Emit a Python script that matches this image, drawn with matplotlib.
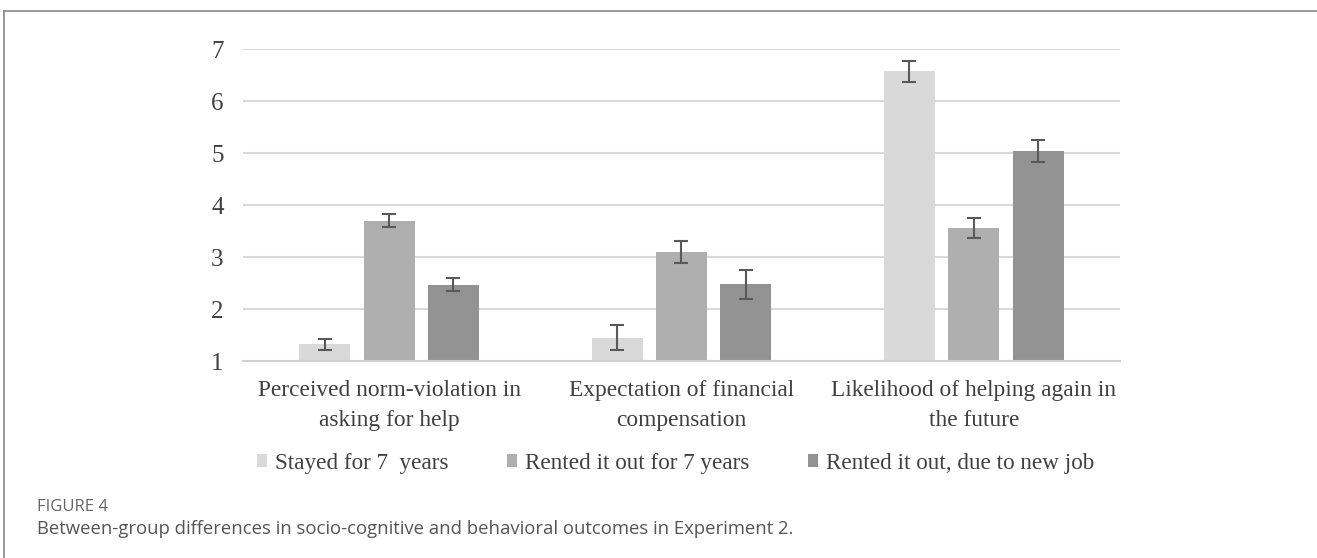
import numpy as np
import matplotlib.pyplot as plt
from matplotlib.patches import Patch
from matplotlib.lines import Line2D

categories = ['Perceived norm-violation in\nasking for help',
              'Expectation of financial\ncompensation',
              'Likelihood of helping again in\nthe future']
groups = ['Stayed for 7  years', 'Rented it out for 7 years', 'Rented it out, due to new job']
means = [
    [1.32, 1.45, 6.57],
    [3.70, 3.10, 3.56],
    [2.47, 2.48, 5.04],
]
errors = [
    [0.10, 0.24, 0.20],
    [0.12, 0.21, 0.19],
    [0.12, 0.28, 0.21],
]
colors = ['#d9d9d9', '#afafaf', '#939393']

plt.rcParams['font.family'] = 'Liberation Serif'

fig = plt.figure(figsize=(13.17, 5.58), dpi=100)
ax = fig.add_axes([0.1845, 0.353, 0.6659, 0.559])

x = np.arange(len(categories))
width = 0.175
step = 0.22
for i in range(3):
    ax.bar(x + (i - 1) * step, means[i], width, bottom=0, color=colors[i], zorder=2)
    ax.errorbar(x + (i - 1) * step, means[i], yerr=errors[i], fmt='none',
                ecolor='#595959', elinewidth=1.5, capsize=5, capthick=1.5, zorder=3)

ax.set_xlim(-0.5, 2.5)
ax.set_ylim(1, 7)
ax.set_yticks(range(1, 8))
ax.yaxis.grid(True, color='#d9d9d9', linewidth=1.5, zorder=0)
ax.set_axisbelow(True)
for s in ['top', 'right', 'left']:
    ax.spines[s].set_visible(False)
ax.spines['bottom'].set_color('#d0d0d0')
ax.spines['bottom'].set_linewidth(1.5)
ax.tick_params(axis='both', length=0, colors='#404040')
ax.tick_params(axis='y', pad=14, labelsize=18)
ax.tick_params(axis='x', pad=14, labelsize=16.8)
ax.set_xticks(x)
ax.set_xticklabels(categories, linespacing=1.55)

handles = [Patch(facecolor=c, edgecolor='none') for c in colors]
fig.legend(handles, groups, loc='center', bbox_to_anchor=(0.513, 0.17), ncol=3,
           frameon=False, fontsize=16.7, handlelength=0.45, handleheight=0.5,
           handletextpad=0.35, columnspacing=2.5, labelcolor='#404040')

# frame lines and caption
fig.add_artist(Line2D([0.003, 1.0], [0.981, 0.981], color='#888888', linewidth=1.2))
fig.add_artist(Line2D([0.003, 0.003], [0.0, 0.981], color='#888888', linewidth=1.2))
fig.text(0.028, 0.085, 'FIGURE 4', family='Open Sans', fontsize=12, color='#666666')
fig.text(0.028, 0.043, 'Between-group differences in socio-cognitive and behavioral outcomes in Experiment 2.',
         family='Open Sans', fontsize=13.3, color='#555555')

fig.savefig('out.png', dpi=100, facecolor='white')
